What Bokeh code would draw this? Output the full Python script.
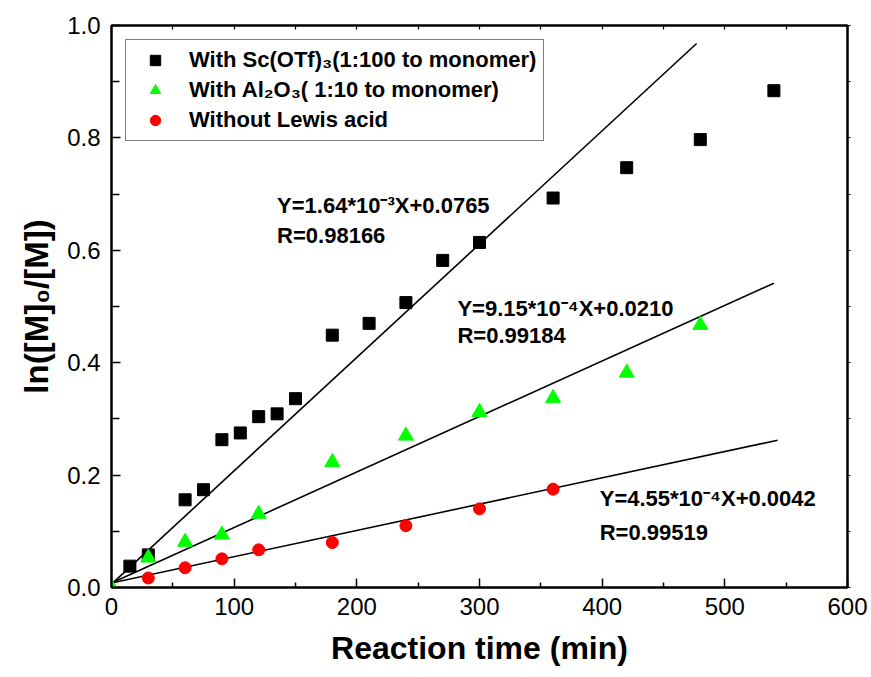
import math
from bokeh.plotting import figure
from bokeh.models import (Range1d, FixedTicker, PrintfTickFormatter, LinearAxis,
                          Label, Legend, LegendItem, Title)
from bokeh.embed import file_html
from bokeh.resources import INLINE

# ---- data ----
sc_time = [15, 30, 60, 75, 90, 105, 120, 135, 150, 180, 210, 240, 270, 300, 360, 420, 480, 540]
sc_val = [0.038, 0.058, 0.156, 0.174, 0.263, 0.275, 0.304, 0.309, 0.336, 0.449,
          0.470, 0.507, 0.582, 0.614, 0.693, 0.747, 0.797, 0.884]

al_time = [0, 30, 60, 90, 120, 180, 240, 300, 360, 420, 480]
al_val = [0.0, 0.053, 0.081, 0.094, 0.131, 0.223, 0.270, 0.312, 0.337, 0.382, 0.467]

no_time = [30, 60, 90, 120, 180, 240, 300, 360]
no_val = [0.017, 0.035, 0.051, 0.067, 0.080, 0.110, 0.140, 0.175]

# fitted lines (end points as drawn)
sc_fit_x = [0, 477]
sc_fit_y = [0.006, 0.968]
al_fit_x = [0, 540]
al_fit_y = [0.008, 0.5415]
no_fit_x = [0, 543]
no_fit_y = [0.008, 0.262]

series_labels = ["With Sc(OTf)\u2083(1:100 to monomer)",
                 "With Al\u2082O\u2083( 1:10 to monomer)",
                 "Without Lewis acid"]

eq_texts = [["Y=1.64*10\u207b\u00b3X+0.0765", "R=0.98166"],
            ["Y=9.15*10\u207b\u2074X+0.0210", "R=0.99184"],
            ["Y=4.55*10\u207b\u2074X+0.0042", "R=0.99519"]]

x_ticks = [0, 100, 200, 300, 400, 500, 600]
x_minor = [50, 150, 250, 350, 450, 550]
y_ticks = [0.0, 0.2, 0.4, 0.6, 0.8, 1.0]
y_minor = [0.1, 0.3, 0.5, 0.7, 0.9]

x_title = "Reaction time (min)"
y_title = "ln([M]\u2080/[M])"

FONT = "Liberation Sans"

p = figure(width=871, height=677, x_range=Range1d(0, 600), y_range=Range1d(0, 1.0),
           output_backend="svg", toolbar_location=None,
           min_border_left=111, min_border_right=24, min_border_top=25, min_border_bottom=90)
p.grid.visible = False
p.outline_line_color = "black"
p.outline_line_width = 2
p.background_fill_color = "white"
p.border_fill_color = "white"

# bottom axis
xa = p.xaxis[0]
xa.ticker = FixedTicker(ticks=x_ticks, minor_ticks=x_minor)
xa.major_label_text_font = FONT
xa.major_label_text_font_size = "24px"
xa.major_label_text_color = "black"
xa.major_label_standoff = 10
xa.major_tick_in = 9
xa.major_tick_out = 0
xa.minor_tick_in = 5
xa.minor_tick_out = 0
xa.axis_line_width = 2
xa.major_tick_line_width = 1.5
xa.minor_tick_line_width = 1.5
xa.axis_label = x_title
xa.axis_label_text_font = FONT
xa.axis_label_text_font_style = "bold"
xa.axis_label_text_font_size = "32px"
xa.axis_label_text_color = "black"
xa.axis_label_standoff = 12

# left axis
ya = p.yaxis[0]
ya.ticker = FixedTicker(ticks=y_ticks, minor_ticks=y_minor)
ya.formatter = PrintfTickFormatter(format="%.1f")
ya.major_label_text_font = FONT
ya.major_label_text_font_size = "24px"
ya.major_label_text_color = "black"
ya.major_label_standoff = 11
ya.major_tick_in = 9
ya.major_tick_out = 0
ya.minor_tick_in = 8
ya.minor_tick_out = 0
ya.axis_line_width = 2
ya.major_tick_line_width = 1.5
ya.minor_tick_line_width = 1.5

# y title placed as a side title so that it can be shifted along the axis
yt = Title(text=y_title, align="center", offset=-16, standoff=19,
           text_font=FONT, text_font_style="bold", text_font_size="33px", text_color="black")
p.add_layout(yt, "left")

# top & right frame axes (ticks only, no labels)
top = LinearAxis(ticker=FixedTicker(ticks=[], minor_ticks=x_ticks + x_minor),
                 minor_tick_in=4, minor_tick_out=0, major_tick_in=0, major_tick_out=0,
                 axis_line_width=2, minor_tick_line_width=1.2)
p.add_layout(top, "above")
right = LinearAxis(ticker=FixedTicker(ticks=[], minor_ticks=y_ticks + y_minor),
                   minor_tick_in=0, minor_tick_out=3, major_tick_in=0, major_tick_out=0,
                   axis_line_width=2, minor_tick_line_width=1.2)
p.add_layout(right, "right")

# fit lines
p.line(sc_fit_x, sc_fit_y, line_color="black", line_width=1.6)
p.line(al_fit_x, al_fit_y, line_color="black", line_width=1.6)
p.line(no_fit_x, no_fit_y, line_color="black", line_width=1.6)

# markers
r_sc = p.scatter(sc_time, sc_val, marker="square", size=12, fill_color="black", line_color="black")
r_al = p.scatter(al_time, al_val, marker="triangle", size=15, fill_color="#00FF00", line_color="#00FF00")
r_no = p.scatter(no_time, no_val, marker="circle", size=12, fill_color="#FF0000", line_color="#FF0000")

legend = Legend(items=[LegendItem(label=series_labels[0], renderers=[r_sc]),
                       LegendItem(label=series_labels[1], renderers=[r_al]),
                       LegendItem(label=series_labels[2], renderers=[r_no])],
                location="top_left")
legend.margin = 14
legend.padding = 7
legend.spacing = 4
legend.glyph_width = 44
legend.glyph_height = 26
legend.label_height = 26
legend.label_standoff = 12
legend.label_text_font = FONT
legend.label_text_font_style = "bold"
legend.label_text_font_size = "22px"
legend.label_text_color = "black"
legend.border_line_color = "black"
legend.border_line_width = 1.2
legend.background_fill_color = "white"
legend.background_fill_alpha = 1.0
p.add_layout(legend)

# equation annotations
eq_pos = [(135, 0.680, 0.626), (282, 0.496, 0.448), (398, 0.158, 0.098)]
for (ex, ey1, ey2), (t1, t2) in zip(eq_pos, eq_texts):
    for ey, t in ((ey1, t1), (ey2, t2)):
        p.add_layout(Label(x=ex, y=ey, text=t, text_font=FONT, text_font_style="bold",
                           text_font_size="22px", text_color="black",
                           text_align="left", text_baseline="alphabetic"))

open("out.html", "w").write(file_html(p, INLINE))
